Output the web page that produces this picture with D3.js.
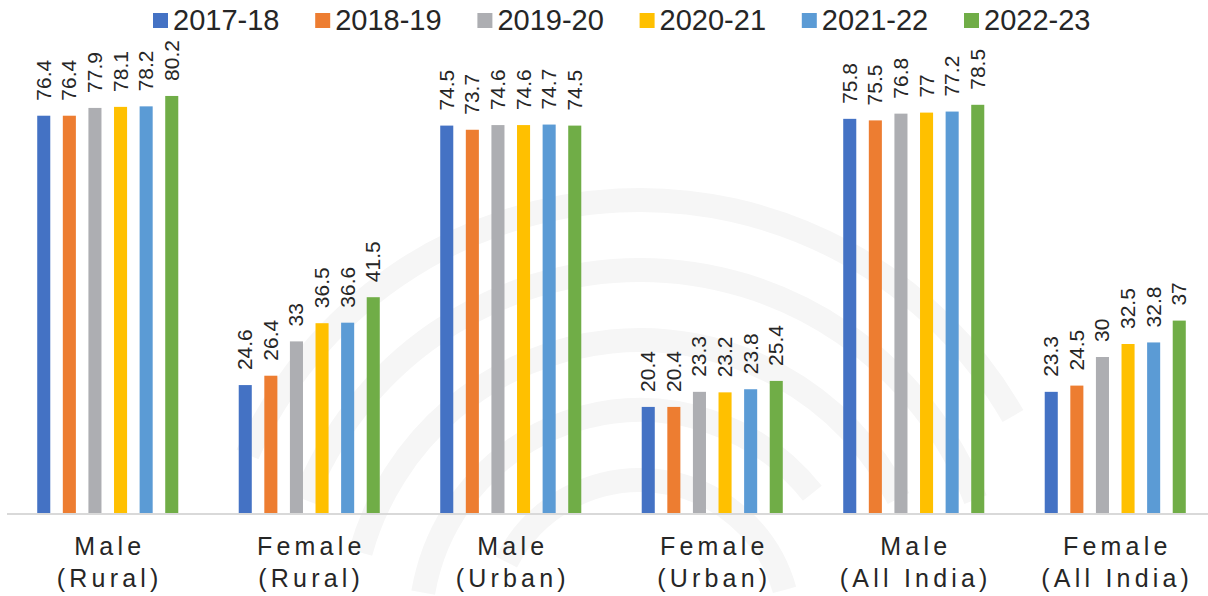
<!DOCTYPE html>
<html>
<head>
<meta charset="utf-8">
<script src="https://cdn.jsdelivr.net/npm/d3@7"></script>
<style>
  html, body { margin: 0; padding: 0; background: #fff; }
  svg { display: block; font-family: "Liberation Sans", Arial, Helvetica, sans-serif; }
</style>
</head>
<body>
<svg id="chart" width="1208" height="596"></svg>
<script>
// Worker population ratio by gender and sector, PLFS rounds
const categories = [
  ["Male", "(Rural)"],
  ["Female", "(Rural)"],
  ["Male", "(Urban)"],
  ["Female", "(Urban)"],
  ["Male", "(All India)"],
  ["Female", "(All India)"]
];
const years = ["2017-18", "2018-19", "2019-20", "2020-21", "2021-22", "2022-23"];
const colors = ["#4472C4", "#ED7D31", "#ADAEB2", "#FFC000", "#5B9BD5", "#70AD47"];

// one array per category, in the order of `years`
const maleRural    = [76.4, 76.4, 77.9, 78.1, 78.2, 80.2];
const femaleRural  = [24.6, 26.4, 33, 36.5, 36.6, 41.5];
const maleUrban    = [74.5, 73.7, 74.6, 74.6, 74.7, 74.5];
const femaleUrban  = [20.4, 20.4, 23.3, 23.2, 23.8, 25.4];
const maleIndia    = [75.8, 75.5, 76.8, 77, 77.2, 78.5];
const femaleIndia  = [23.3, 24.5, 30, 32.5, 32.8, 37];
const values = [maleRural, femaleRural, maleUrban, femaleUrban, maleIndia, femaleIndia];

const svg = d3.select("#chart");
const W = 1208, H = 596;
const baseY = 513;

const catKeys = categories.map(c => c.join(" "));
const x0 = d3.scaleBand().domain(catKeys).range([7, 1216]).padding(0);
const step = x0.bandwidth();
const x1 = d3.scaleBand().domain(years).range([0, step])
  .paddingInner(0.49).paddingOuter((step / 25.6 - 6 + 0.49) / 2);
const y = d3.scaleLinear().domain([0, 90]).range([baseY, 45]);

// faint circular watermark in the background
const wm = svg.append("g").attr("fill", "none").attr("stroke", "#f6f6f6")
  .attr("stroke-width", 24).attr("stroke-linecap", "round");
const arcGen = d3.arc();
const cx = 640, cy = 630;
[
  { r: 430, a0: -1.15, a1: 1.05 },
  { r: 360, a0: -1.2, a1: 1.2 },
  { r: 290, a0: -1.3, a1: 1.1 },
  { r: 220, a0: -1.4, a1: 0.9 },
  { r: 150, a0: -1.1, a1: 1.3 }
].forEach(d => {
  wm.append("path")
    .attr("transform", `translate(${cx},${cy})`)
    .attr("d", arcGen({ innerRadius: d.r, outerRadius: d.r, startAngle: d.a0, endAngle: d.a1 }));
});

// baseline
svg.append("line")
  .attr("x1", 7).attr("x2", W).attr("y1", baseY + 1).attr("y2", baseY + 1)
  .attr("stroke", "#D9D9D9").attr("stroke-width", 2);

// bars
const groups = svg.append("g").selectAll("g")
  .data(values.map((v, i) => ({ key: catKeys[i], vals: v })))
  .join("g")
  .attr("transform", d => `translate(${x0(d.key)},0)`);

groups.selectAll("rect")
  .data(d => d.vals.map((v, j) => ({ year: years[j], v, j })))
  .join("rect")
  .attr("x", d => x1(d.year))
  .attr("width", x1.bandwidth())
  .attr("y", d => y(d.v))
  .attr("height", d => baseY - y(d.v))
  .attr("fill", d => colors[d.j]);

// rotated value labels
groups.selectAll("text")
  .data(d => d.vals.map((v, j) => ({ year: years[j], v })))
  .join("text")
  .attr("transform", d => `translate(${x1(d.year) + x1.bandwidth() / 2 + 7},${y(d.v) - 15}) rotate(-90)`)
  .attr("font-size", 21)
  .attr("fill", "#262626")
  .text(d => d.v);

// category labels (two lines)
const cat = svg.append("g").selectAll("text")
  .data(categories.map((c, i) => ({ lines: c, key: catKeys[i] })))
  .join("text")
  .attr("text-anchor", "middle")
  .attr("font-size", 25)
  .attr("letter-spacing", 4.2)
  .attr("fill", "#262626");
cat.each(function (d) {
  const t = d3.select(this);
  const cxp = x0(d.key) + step / 2 + 2;
  t.append("tspan").attr("x", cxp).attr("y", 555).text(d.lines[0]);
  t.append("tspan").attr("x", cxp).attr("y", 587).text(d.lines[1]);
});

// legend
const legend = svg.append("g").selectAll("g")
  .data(years)
  .join("g")
  .attr("transform", (d, i) => `translate(${153 + i * 162.2},0)`);
legend.append("rect").attr("x", 0).attr("y", 13).attr("width", 15).attr("height", 15)
  .attr("fill", (d, i) => colors[i]);
legend.append("text").attr("x", 20).attr("y", 30).attr("font-size", 29)
  .attr("fill", "#262626").text(d => d);
</script>
</body>
</html>
